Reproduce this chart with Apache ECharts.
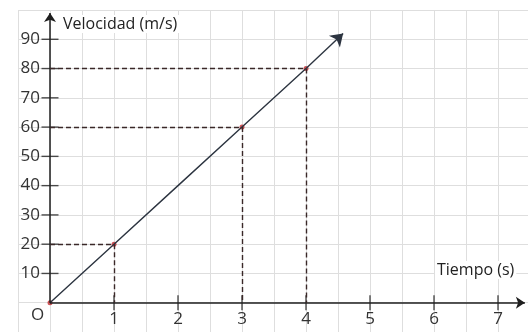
<!DOCTYPE html>
<html>
<head>
<meta charset="utf-8">
<script src="https://cdn.jsdelivr.net/npm/echarts@6/dist/echarts.min.js"></script>
<style>html,body{margin:0;padding:0;background:#fff}#c{width:528px;height:332px}</style>
</head>
<body>
<div id="c"></div>
<script>
// Data
const times = [0, 1, 2, 3, 4];
const velocities = [0, 20, 40, 60, 80];
const markedTimes = [0, 1, 3, 4];
const markedVelocities = [0, 20, 60, 80];
const arrowEnd = [4.58, 92];
const xTickValues = [1, 2, 3, 4, 5, 6, 7];
const yTickValues = [10, 20, 30, 40, 50, 60, 70, 80, 90];
const yAxisEnd = 99;
const xAxisEnd = 7.42;
const yTitle = 'Velocidad (m/s)';
const xTitle = 'Tiempo (s)';
const originLabel = 'O';

const FONT = '"Open Sans", "Liberation Sans", sans-serif';
const chart = echarts.init(document.getElementById('c'), null, {renderer: 'canvas'});

const lineData = times.map((t, i) => [t, velocities[i]]);
const pointData = markedTimes.map((t, i) => [t, markedVelocities[i]]);
const guideLines = [];
markedTimes.forEach((t, i) => {
  const v = markedVelocities[i];
  if (t > 0) {
    guideLines.push([{coord: [0, v]}, {coord: [t, v]}]);
    guideLines.push([{coord: [t, v]}, {coord: [t, 0]}]);
  }
});

// scale: x 64 px/unit, y 322/110 px/unit
const GH = 322;
const titleStyle = {fontSize: 16, fontFamily: FONT, fill: '#222', backgroundColor: '#fff', padding: [1, 2]};
chart.setOption({
  animation: false,
  backgroundColor: '#ffffff',
  grid: [
    {left: 18, top: 10, width: 512, height: GH, containLabel: false, outerBoundsMode: 'none'},
    {left: 50, top: 10, width: 480, height: GH * 100 / 110, containLabel: false, outerBoundsMode: 'none'}
  ],
  xAxis: [
    {
      gridIndex: 0, type: 'value', min: -0.5, max: 7.5, interval: 0.5,
      axisLine: {show: false}, axisTick: {show: false}, axisLabel: {show: false},
      splitLine: {show: true, lineStyle: {color: '#dedede', width: 1}}
    },
    {
      gridIndex: 1, type: 'value', min: 0, max: 7.5, interval: 0.5,
      axisLine: {show: false}, axisTick: {show: false}, splitLine: {show: false},
      axisLabel: {
        margin: 8, fontSize: 17, color: '#333', fontFamily: FONT,
        formatter: v => (Number.isInteger(v) && v >= 1) ? String(v) : ''
      }
    }
  ],
  yAxis: [
    {
      gridIndex: 0, type: 'value', min: -10, max: 100, interval: 10,
      axisLine: {show: false}, axisTick: {show: false}, axisLabel: {show: false},
      splitLine: {show: true, lineStyle: {color: '#dedede', width: 1}}
    },
    {
      gridIndex: 1, type: 'value', min: 0, max: 100, interval: 10,
      axisLine: {show: false}, axisTick: {show: false}, splitLine: {show: false},
      axisLabel: {
        margin: 10, fontSize: 17, color: '#333', fontFamily: FONT,
        formatter: v => (v >= 10 && v <= 90) ? String(v) : ''
      }
    }
  ],
  graphic: [
    {type: 'text', z: 100, left: 61, top: 15, style: Object.assign({text: yTitle}, titleStyle)},
    {type: 'text', z: 100, left: 435, top: 261, style: Object.assign({text: xTitle}, titleStyle)},
    {type: 'text', z: 100, left: 31, top: 307, style: {text: originLabel, fontSize: 17, fontFamily: FONT, fill: '#333'}}
  ],
  series: [
    {
      name: 'ejes', type: 'line', data: [], silent: true, xAxisIndex: 1, yAxisIndex: 1,
      markLine: {
        silent: true, symbol: ['none', 'arrow'], symbolSize: 9,
        label: {show: false},
        lineStyle: {color: '#1e1e1e', width: 1.5, type: 'solid'},
        data: [
          [{coord: [0, 0]}, {coord: [0, yAxisEnd]}],
          [{coord: [0, 0]}, {coord: [xAxisEnd, 0]}]
        ]
      }
    },
    {
      name: 'guias', type: 'line', data: [], silent: true, xAxisIndex: 1, yAxisIndex: 1,
      markLine: {
        silent: true, symbol: ['none', 'none'],
        label: {show: false},
        lineStyle: {color: '#3a2828', width: 1.4, type: [5, 3]},
        data: guideLines
      }
    },
    {
      name: 'ticksY', type: 'scatter', silent: true, xAxisIndex: 1, yAxisIndex: 1,
      symbol: 'rect', symbolSize: [17, 1.4],
      itemStyle: {color: '#222'},
      data: yTickValues.map(v => [0, v])
    },
    {
      name: 'ticksX', type: 'scatter', silent: true, xAxisIndex: 1, yAxisIndex: 1,
      symbol: 'rect', symbolSize: [1.4, 15],
      itemStyle: {color: '#222'},
      data: xTickValues.map(t => [t, 0])
    },
    {
      name: 'velocidad', type: 'line', data: lineData, silent: true, xAxisIndex: 1, yAxisIndex: 1,
      showSymbol: false,
      lineStyle: {color: '#2c3440', width: 1.4},
      markLine: {
        silent: true, symbol: ['none', 'arrow'], symbolSize: 12,
        label: {show: false},
        itemStyle: {color: '#2a5b8c'},
        lineStyle: {color: '#2c3440', width: 1.4, type: 'solid'},
        data: [[{coord: [4, 80]}, {coord: arrowEnd}]]
      }
    },
    {
      name: 'puntos', type: 'scatter', silent: true, xAxisIndex: 1, yAxisIndex: 1,
      symbol: 'circle', symbolSize: 5,
      itemStyle: {color: '#c0282d'},
      data: pointData
    }
  ]
});
</script>
</body>
</html>
